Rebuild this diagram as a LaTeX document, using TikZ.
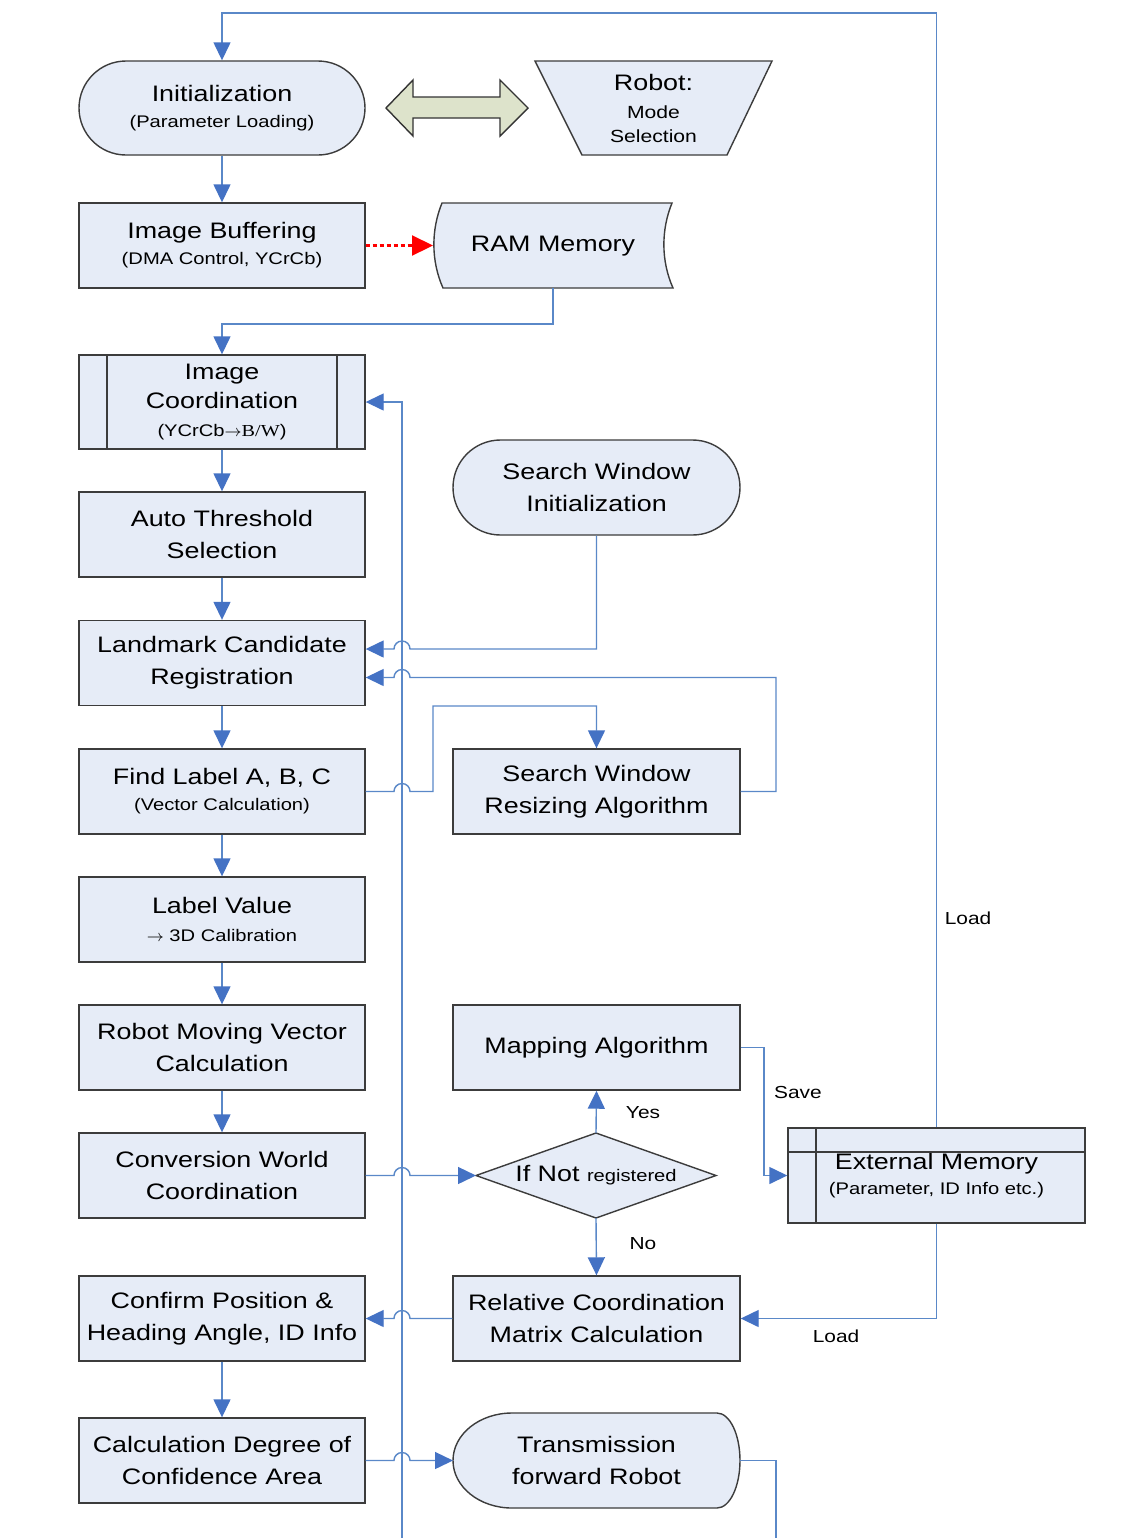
\documentclass[tikz,border=0pt]{standalone}
\usepackage{fontspec}
\setmainfont{Liberation Sans}[FakeStretch=1.2]
\newfontfamily\serifb{Liberation Serif}[FakeStretch=1.2]
\usetikzlibrary{arrows.meta}
\definecolor{boxfill}{HTML}{E6ECF7}
\definecolor{bordergray}{HTML}{3C3C3C}
\definecolor{linblue}{HTML}{5A88C8}
\definecolor{tipblue}{HTML}{4472C4}
\definecolor{olivefill}{HTML}{DDE3CB}
\newcommand\mainf{\fontsize{11.2}{16}\selectfont}
\newcommand\subf{\fontsize{8.4}{10}\selectfont}
\newcommand\lblf{\fontsize{8.7}{10}\selectfont}
\tikzset{
  box/.style={draw=bordergray, fill=boxfill, line width=0.7pt, minimum width=143pt,
    minimum height=42.5pt, align=center, inner sep=0pt, font=\mainf},
  shapefill/.style={draw=bordergray, fill=boxfill, line width=0.7pt},
  txt/.style={align=center, inner sep=0pt, font=\mainf},
  conn/.style={draw=linblue, line width=0.7pt},
  arr/.style={conn, -{Triangle[length=9pt,width=8.5pt,color=tipblue]}},
  redarr/.style={draw=red, line width=1.1pt, dash pattern=on 2pt off 1.5pt, -{Triangle[length=10.5pt,width=10pt,color=red]}},
  lbl/.style={font=\lblf, inner sep=0pt},
}
\begin{document}
\begin{tikzpicture}[x=0.5pt,y=-0.5pt]
\useasboundingbox (0,0) rectangle (1145,1538);
\fill[white] (0,0) rectangle (1145,1538);

% helper coordinates
\coordinate (ytop) at (0,13);
\coordinate (vbot) at (402,1538);
\coordinate (rbot) at (776,1538);

% ---- left column ----
\node[box, rounded corners=23.5pt, minimum height=47pt] (init) at (222,108)
  {\raisebox{-2pt}{Initialization}\\[-1pt]{\subf (Parameter Loading)}};
\node[box] (buf) at (222,245.5) {\raisebox{-2pt}{Image Buffering}\\[-1pt]{\subf (DMA Control, YCrCb)}};
\node[box, minimum height=47pt] (imc) at (222,402)
  {\raisebox{-4pt}{Image}\\[1pt]\raisebox{-1.5pt}{Coordination}\\[-0.5pt]{\subf (YCrCb$\rightarrow${\serifb B/W})}};
\draw[bordergray, line width=0.7pt] (107,355) -- (107,449) (337,355) -- (337,449);
\node[box] (auto) at (222,534.5) {Auto Threshold\\Selection};
\node[box] (land) at (222,663) {Landmark Candidate\\Registration};
\node[box] (find) at (222,791.5) {\raisebox{-1.5pt}{Find Label A, B, C}\\[-1.5pt]{\subf (Vector Calculation)}};
\node[box] (lv) at (222,919.5) {Label Value\\[-2pt]{\subf $\rightarrow$ 3D Calibration}};
\node[box] (rmv) at (222,1047.5) {Robot Moving Vector\\Calculation};
\node[box] (conv) at (222,1175.5) {Conversion World\\Coordination};
\node[box] (conf) at (222,1318.5) {Confirm Position \&\\Heading Angle, ID Info};
\node[box] (calc) at (222,1460.5) {Calculation Degree of\\Confidence Area};

% ---- top right ----
\draw[draw=black!80, fill=olivefill, line width=0.7pt]
  (386,108) -- (413,80) -- (413,97) -- (500,97) -- (500,80) -- (528,108)
  -- (500,136) -- (500,118) -- (413,118) -- (413,136) -- cycle;
\draw[shapefill] (535,61) -- (772,61) -- (727,155) -- (582,155) -- cycle;
\node[txt] (robot) at (653.5,108) {Robot:\\[-2pt]{\fontsize{8.8}{10}\selectfont Mode}\\[-4pt]{\fontsize{8.8}{10}\selectfont Selection}};

\draw[shapefill] (442,203) -- (672,203) .. controls (661,230) and (661,261) .. (673,288)
  -- (443,288) .. controls (431,261) and (431,230) .. (442,203) -- cycle;
\node[txt] (ram) at (553,246.5) {RAM Memory};
\coordinate (ramW) at (433,245.5);
\coordinate (ramS) at (553,288);

% ---- right column ----
\node[box, rounded corners=23.75pt, minimum width=143.5pt, minimum height=47.5pt] (swi) at (596.5,487.5)
  {Search Window\\Initialization};
\node[box, minimum width=143.5pt] (swr) at (596.5,791.5) {Search Window\\Resizing Algorithm};
\node[box, minimum width=143.5pt] (map) at (596.5,1047.5) {Mapping Algorithm};
\draw[shapefill] (476,1175.5) -- (596,1133) -- (716,1175.5) -- (596,1218) -- cycle;
\coordinate (diaW) at (476,1175.5);
\coordinate (diaN) at (596,1133);
\coordinate (diaS) at (596,1218);
\node[txt] (dia) at (596,1175.5) {If Not {\subf registered}};
\node[box, minimum width=143.5pt] (rel) at (596.5,1318.5) {Relative Coordination\\Matrix Calculation};

\node[box, minimum width=148.5pt, minimum height=47.5pt] (ext) at (936.5,1175.5)
  {\raisebox{-2pt}{External Memory}\\[-1.5pt]{\subf (Parameter, ID Info etc.)}};
\draw[bordergray, line width=0.7pt] (788,1152) -- (1085,1152) (816,1128) -- (816,1223);

\draw[shapefill] (512,1413) -- (717,1413)
  arc[start angle=90, end angle=-90, x radius=11.5pt, y radius=23.75pt]
  -- (512,1508)
  arc[start angle=270, end angle=90, x radius=29.5pt, y radius=23.75pt] -- cycle;
\node[txt] (trans) at (596.5,1460.5) {Transmission\\forward Robot};
\coordinate (transW) at (453,1460.5);
\coordinate (transE) at (740,1460.5);

% ---- connectors ----
\draw[arr] (ext.north) -- (ext.north |- ytop) -| (init.north);
\draw[arr] (init.south) -- (buf.north);
\draw[redarr] (buf.east) -- (ramW);
\draw[arr] (ramS) -- ++(0,36) -| (imc.north);
\draw[arr] (imc.south) -- (auto.north);
\draw[arr] (auto.south) -- (land.north);
\draw[arr] (land.south) -- (find.north);
\draw[arr] (find.south) -- (lv.north);
\draw[arr] (lv.south) -- (rmv.north);
\draw[arr] (rmv.south) -- (conv.north);
\draw[arr] (conf.south) -- (calc.north);

% vertical bus at x=402
\draw[arr] (vbot) |- (imc.east);

% search window init -> landmark (with hop)
\draw[arr] (swi.south) -- (596.5,649) -- (410,649)
  arc[start angle=0, end angle=180, radius=4pt] -- ([yshift=7pt]land.east);
% resizing -> landmark (with hop)
\draw[arr] (swr.east) -- (776,791.5) -- (776,677.5) -- (410,677.5)
  arc[start angle=0, end angle=180, radius=4pt] -- ([yshift=-7.25pt]land.east);
% find label -> resizing (with hop)
\draw[arr] (find.east) -- (394,791.5)
  arc[start angle=180, end angle=0, radius=4pt] -- (433,791.5) -- (433,706) -| (swr.north);
% mapping -> external memory (save)
\draw[arr] (map.east) -- (764,1047.5) |- (ext.west);
% conversion -> diamond (with hop)
\draw[arr] (conv.east) -- (394,1175.5)
  arc[start angle=180, end angle=0, radius=4pt] -- (diaW);
\draw[arr] (diaN) -- (map.south);
\draw[arr] (diaS) -- (rel.north);
% relative -> confirm (with hop)
\draw[arr] (rel.west) -- (410,1318.5)
  arc[start angle=0, end angle=180, radius=4pt] -- (conf.east);
% external memory -> relative (load)
\draw[arr] (ext.south) |- (rel.east);
% calc -> transmission (with hop)
\draw[arr] (calc.east) -- (394,1460.5)
  arc[start angle=180, end angle=0, radius=4pt] -- (transW);
\draw[conn] (transE) -| (rbot);

% ---- labels ----
\node[lbl] (lload1) at (968,918) {Load};
\node[lbl] (lsave) at (798,1092) {Save};
\node[lbl] (lyes) at (643,1113) {Yes};
\node[lbl] (lno) at (643,1244) {No};
\node[lbl] (lload2) at (836,1336) {Load};
\end{tikzpicture}
\end{document}
